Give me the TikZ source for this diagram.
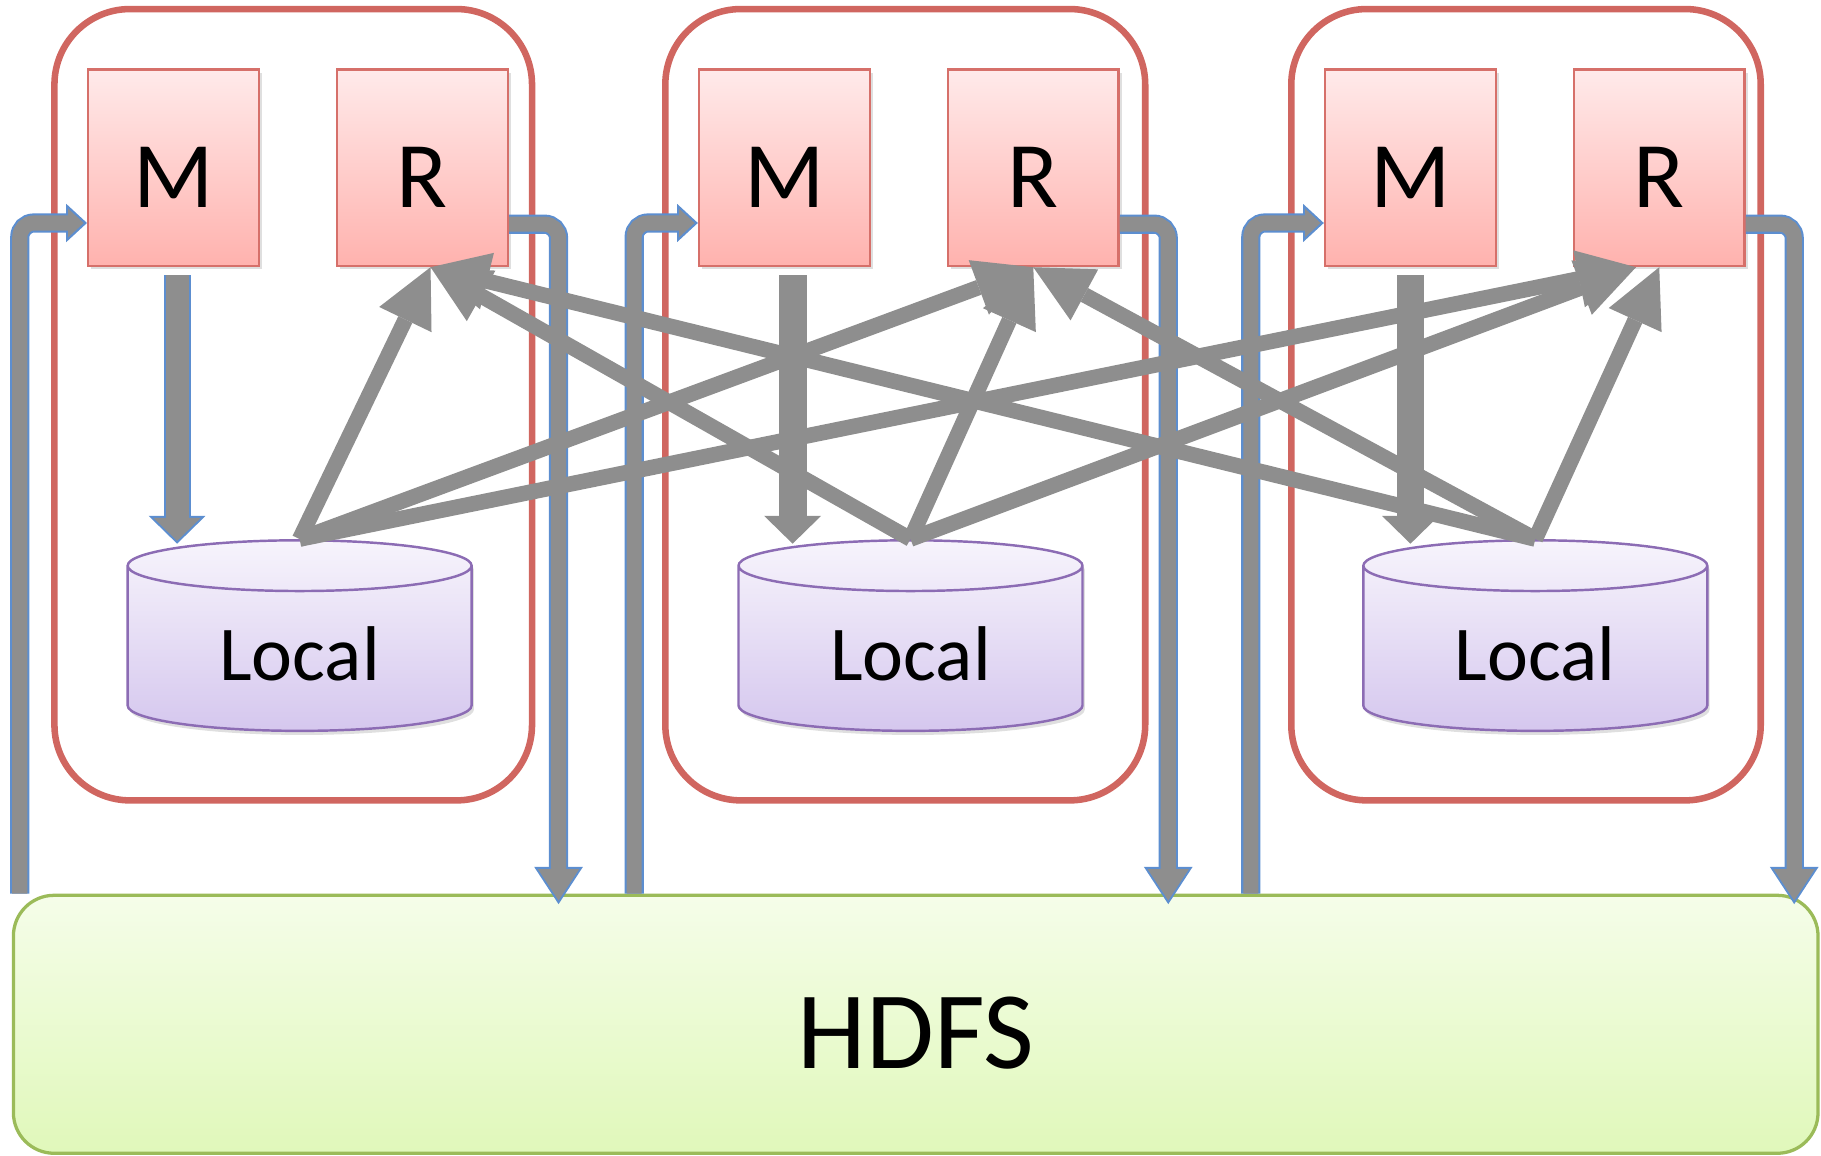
\documentclass[tikz,border=0pt]{standalone}
\usepackage{fontspec}
\setmainfont{Carlito}
\usetikzlibrary{
    shapes.geometric,
    arrows.meta,
    positioning,
    shadows
}

\definecolor{hostred}{RGB}{208,102,96}
\definecolor{taskred}{RGB}{214,112,106}
\definecolor{tasktop}{RGB}{255,234,234}
\definecolor{taskbot}{RGB}{255,178,174}
\definecolor{diskline}{RGB}{140,108,180}
\definecolor{disktop}{RGB}{247,244,252}
\definecolor{diskbot}{RGB}{213,199,238}
\definecolor{hdfsline}{RGB}{155,187,89}
\definecolor{hdfstop}{RGB}{245,253,233}
\definecolor{hdfsbot}{RGB}{224,248,186}
\definecolor{flowgray}{RGB}{142,142,142}
\definecolor{flowblue}{RGB}{92,142,208}

\tikzset{
    host/.style={draw=hostred, line width=1.6pt, rounded corners=0.65cm, minimum height=6.81cm},
    task/.style={draw=taskred, line width=0.6pt, top color=tasktop, bottom color=taskbot,
        minimum width=1.47cm, minimum height=1.69cm, text height=0.69cm,
        font=\fontsize{23}{27}\selectfont,
        drop shadow={shadow xshift=0.025cm, shadow yshift=-0.03cm, opacity=0.25}},
    disk/.style={cylinder, shape border rotate=90, aspect=0.27, draw=diskline, line width=0.6pt,
        top color=disktop, bottom color=diskbot, minimum width=2.96cm, minimum height=1.64cm,
        font=\fontsize{19}{23}\selectfont,
        drop shadow={shadow xshift=0.02cm, shadow yshift=-0.035cm, opacity=0.25}},
    store/.style={draw=hdfsline, line width=0.8pt, rounded corners=0.35cm,
        top color=hdfstop, bottom color=hdfsbot, minimum width=15.53cm, minimum height=2.22cm,
        text height=0.77cm, font=\fontsize{27}{32}\selectfont},
    % block arrows: blue outline first, grey body on top
    in outer/.style={draw=flowblue, line width=4.7pt, rounded corners=0.12cm,
        -{Triangle[length=5.1pt, width=9.4pt, line width=0pt]}},
    in inner/.style={draw=flowgray, line width=3.7pt, rounded corners=0.12cm, shorten >=0.8pt,
        -{Triangle[length=3.8pt, width=7pt, line width=0pt]}},
    out outer/.style={draw=flowblue, line width=4.7pt, rounded corners=0.12cm,
        -{Triangle[length=9.1pt, width=11.9pt, line width=0pt]}},
    out inner/.style={draw=flowgray, line width=3.7pt, rounded corners=0.12cm, shorten >=0.9pt,
        -{Triangle[length=7.7pt, width=10.1pt, line width=0pt]}},
    spill outer/.style={draw=flowblue, line width=6.6pt,
        -{Triangle[length=6.8pt, width=13.9pt, line width=0pt]}},
    spill inner/.style={draw=flowgray, line width=5.6pt, shorten >=0.7pt,
        -{Triangle[length=5.6pt, width=11.5pt, line width=0pt]}},
    spill/.style={draw=flowgray, line width=6.8pt,
        -{Triangle[length=6.8pt, width=13.9pt, line width=0pt]}},
    shuffle/.style={draw=flowgray, line width=3.8pt,
        -{Triangle[length=0.5cm, width=0.5cm, line width=0pt]}}
}

\begin{document}
\begin{tikzpicture}[x=0.01cm, y=-0.01cm]
    \useasboundingbox (0,0) rectangle (1568,995);

    % Hosts
    \node[host, minimum width=4.11cm] (host1) at (252.5,348.5) {};
    \node[host, minimum width=4.13cm] (host2) at (779.5,348.5) {};
    \node[host, minimum width=4.04cm] (host3) at (1314,348.5) {};

    % Map and reduce tasks
    \node[task] (m1) at (149.5,144.5) {M};
    \node[task, right=0.65cm of m1] (r1) {R};
    \node[task] (m2) at (675.5,144.5) {M};
    \node[task, right=0.65cm of m2] (r2) {R};
    \node[task] (m3) at (1214.5,144.5) {M};
    \node[task, right=0.65cm of m3] (r3) {R};

    % Local disks
    \node[disk] (local1) at (258,563) {Local};
    \node[disk] (local2) at (784,563) {Local};
    \node[disk] (local3) at (1322,563) {Local};

    % Distributed file system
    \node[store] (hdfs) at (788.5,882) {HDFS};

    % Input splits read from HDFS
    \draw[in outer] ([xshift=-0.27cm]host1.west |- hdfs.north) |- ([yshift=-0.475cm]m1.west);
    \draw[in inner] ([xshift=-0.27cm]host1.west |- hdfs.north) |- ([yshift=-0.475cm]m1.west);
    \draw[in outer] ([xshift=-0.24cm]host2.west |- hdfs.north) |- ([yshift=-0.475cm]m2.west);
    \draw[in inner] ([xshift=-0.24cm]host2.west |- hdfs.north) |- ([yshift=-0.475cm]m2.west);
    \draw[in outer] ([xshift=-0.32cm]host3.west |- hdfs.north) |- ([yshift=-0.475cm]m3.west);
    \draw[in inner] ([xshift=-0.32cm]host3.west |- hdfs.north) |- ([yshift=-0.475cm]m3.west);

    % Reduce output written back
    \draw[out outer] ([yshift=-0.485cm]r1.east) -| ([xshift=0.2cm,yshift=-0.09cm]host1.east |- hdfs.north);
    \draw[out inner] ([yshift=-0.485cm]r1.east) -| ([xshift=0.2cm,yshift=-0.09cm]host1.east |- hdfs.north);
    \draw[out outer] ([yshift=-0.485cm]r2.east) -| ([xshift=0.17cm,yshift=-0.09cm]host2.east |- hdfs.north);
    \draw[out inner] ([yshift=-0.485cm]r2.east) -| ([xshift=0.17cm,yshift=-0.09cm]host2.east |- hdfs.north);
    \draw[out outer] ([yshift=-0.485cm]r3.east) -| ([xshift=0.26cm,yshift=-0.09cm]host3.east |- hdfs.north);
    \draw[out inner] ([yshift=-0.485cm]r3.east) -| ([xshift=0.26cm,yshift=-0.09cm]host3.east |- hdfs.north);

    % Map output spilled to local disk
    \draw[spill outer] ([xshift=0.03cm,yshift=-0.07cm]m1.south) -- ([xshift=0.03cm,yshift=-0.04cm]m1.south |- local1.north);
    \draw[spill inner] ([xshift=0.03cm,yshift=-0.07cm]m1.south) -- ([xshift=0.03cm,yshift=-0.04cm]m1.south |- local1.north);
    \draw[spill] ([xshift=0.07cm,yshift=-0.07cm]m2.south) -- ([xshift=0.07cm,yshift=-0.04cm]m2.south |- local2.north);
    \draw[spill] ([yshift=-0.07cm]m3.south) -- ([yshift=-0.04cm]m3.south |- local3.north);

    % Shuffle: every disk feeds every reducer
    \draw[shuffle] (local1.north) -- ([xshift=0.07cm]r1.south);
    \draw[shuffle] (local1.north) -- (r2.south);
    \draw[shuffle] (local1.north) -- ([xshift=-0.2cm]r3.south);
    \draw[shuffle] (local2.north) -- ([xshift=0.07cm]r1.south);
    \draw[shuffle] (local2.north) -- (r2.south);
    \draw[shuffle] (local2.north) -- ([xshift=-0.2cm]r3.south);
    \draw[shuffle] (local3.north) -- ([xshift=0.07cm]r1.south);
    \draw[shuffle] (local3.north) -- (r2.south);
    \draw[shuffle] (local3.north) -- (r3.south);
\end{tikzpicture}
\end{document}
